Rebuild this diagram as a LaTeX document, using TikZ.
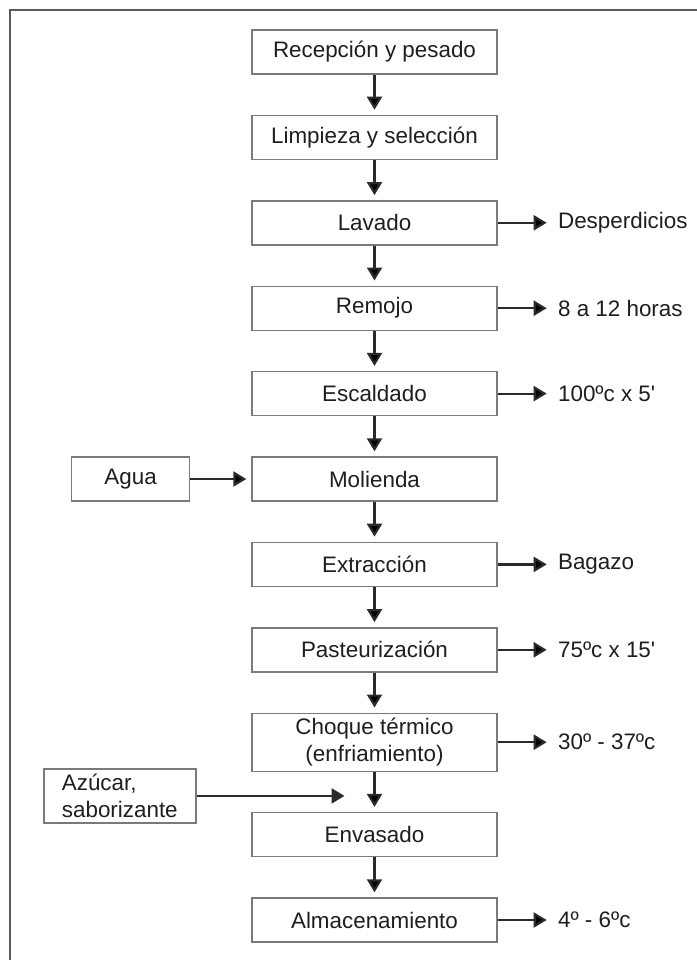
\documentclass[tikz,border=0pt]{standalone}
\usepackage{fontspec}
\setmainfont{Liberation Sans}
\usetikzlibrary{positioning,arrows.meta}

\definecolor{boxgray}{HTML}{7A7A7A}
\definecolor{arrowgray}{HTML}{2A2A2A}
\definecolor{framegray}{HTML}{5A5A5A}
\definecolor{textgray}{HTML}{1E1E1E}

\tikzset{
  proc/.style={rectangle,draw=boxgray,line width=0.7pt,minimum width=122.5pt,
    minimum height=22pt,inner sep=2pt,align=center,text=textgray,
    font=\fontsize{11.2}{13.5}\selectfont},
  side/.style={inner sep=3pt,text=textgray,font=\fontsize{11.2}{13.5}\selectfont},
  flow/.style={draw=arrowgray,line width=1.1pt,shorten >=2.5pt,
    -{Triangle[length=6.5pt,width=7.5pt]}}
}

\begin{document}
\begin{tikzpicture}[node distance=20pt, x=1pt, y=1pt]
\useasboundingbox (0,0) rectangle (348.5,-480);
\draw[framegray,line width=0.8pt] (348.5,-5) -- (5,-5) -- (5,-480);

% main line
\node (rec) [proc] at (187.25,-26) {Recepción y pesado};
\node (lim) [proc, below=of rec] {Limpieza y selección};
\node (lav) [proc, below=of lim] {Lavado};
\node (rem) [proc, below=of lav] {Remojo};
\node (esc) [proc, below=of rem] {Escaldado};
\node (mol) [proc, below=of esc] {Molienda};
\node (ext) [proc, below=of mol] {Extracción};
\node (pas) [proc, below=of ext] {Pasteurización};
\node (cho) [proc, below=of pas, minimum height=29pt] {Choque térmico\\(enfriamiento)};
\node (env) [proc, below=of cho] {Envasado};
\node (alm) [proc, below=of env] {Almacenamiento};

% outputs
\node (desp) [side, right=27pt of lav] {Desperdicios};
\node (hor) [side, right=27pt of rem] {8 a 12 horas};
\node (tesc) [side, right=27pt of esc] {100ºc x 5\textquotesingle};
\node (baga) [side, right=27pt of ext] {Bagazo};
\node (tpas) [side, right=27pt of pas] {75ºc x 15\textquotesingle};
\node (tcho) [side, right=27pt of cho] {30º - 37ºc};
\node (talm) [side, right=27pt of alm] {4º - 6ºc};

% inputs
\node (agua) [proc, minimum width=59pt, left=30.5pt of mol] {Agua};
\coordinate [below=12pt of cho] (mix);
\node (azu) [proc, minimum width=76pt, minimum height=27pt, align=left,
  left=89pt of mix] {Azúcar,\\saborizante};

\path[flow] (rec) edge (lim)
            (lim) edge (lav)
            (lav) edge (rem)
            (rem) edge (esc)
            (esc) edge (mol)
            (mol) edge (ext)
            (ext) edge (pas)
            (pas) edge (cho)
            (cho) edge (env)
            (env) edge (alm);
\path[flow] (lav) edge (desp)
            (rem) edge (hor)
            (esc) edge (tesc)
            (ext) edge (baga)
            (pas) edge (tpas)
            (cho) edge (tcho)
            (alm) edge (talm)
            (agua) edge (mol);
\draw[flow, shorten >=15pt] (azu) -- (mix);
\end{tikzpicture}
\end{document}
